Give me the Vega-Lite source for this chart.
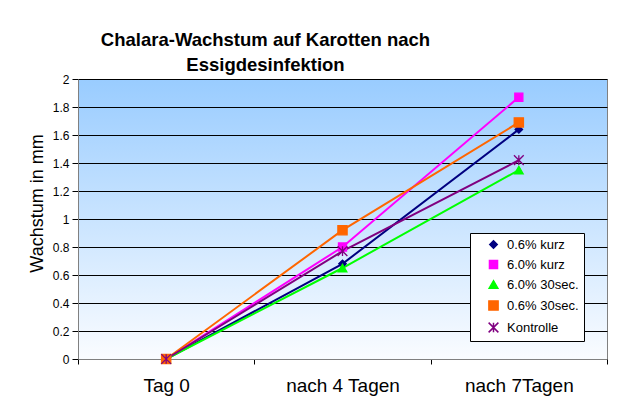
{
  "$schema": "https://vega.github.io/schema/vega-lite/v6.json",
  "autosize": {"type": "none"},
  "width": 529,
  "height": 280,
  "padding": {"left": 78, "top": 79, "right": 23, "bottom": 48},
  "background": "white",
  "title": {
    "text": ["Chalara-Wachstum auf Karotten nach", "Essigdesinfektion"],
    "font": "Liberation Sans",
    "fontSize": 18.5,
    "fontWeight": "bold",
    "lineHeight": 25,
    "color": "#000000",
    "anchor": "middle",
    "dx": -77,
    "offset": -1
  },
  "config": {
    "view": {
      "stroke": "#808080",
      "strokeWidth": 1,
      "fill": {
        "gradient": "linear",
        "x1": 0, "y1": 0, "x2": 0, "y2": 1,
        "stops": [
          {"offset": 0, "color": "#99CCFF"},
          {"offset": 1, "color": "#FAFCFF"}
        ]
      }
    },
    "axis": {
      "labelFont": "Liberation Sans",
      "titleFont": "Liberation Sans",
      "labelColor": "#000000",
      "titleColor": "#000000",
      "domainColor": "#808080",
      "tickColor": "#000000"
    }
  },
  "data": {
    "values": [
      {"day": "Tag 0", "series": "0.6% kurz", "value": 0},
      {"day": "nach 4 Tagen", "series": "0.6% kurz", "value": 0.68},
      {"day": "nach 7Tagen", "series": "0.6% kurz", "value": 1.64},
      {"day": "Tag 0", "series": "6.0% kurz", "value": 0},
      {"day": "nach 4 Tagen", "series": "6.0% kurz", "value": 0.80},
      {"day": "nach 7Tagen", "series": "6.0% kurz", "value": 1.87},
      {"day": "Tag 0", "series": "6.0% 30sec.", "value": 0},
      {"day": "nach 4 Tagen", "series": "6.0% 30sec.", "value": 0.65},
      {"day": "nach 7Tagen", "series": "6.0% 30sec.", "value": 1.35},
      {"day": "Tag 0", "series": "0.6% 30sec.", "value": 0},
      {"day": "nach 4 Tagen", "series": "0.6% 30sec.", "value": 0.92},
      {"day": "nach 7Tagen", "series": "0.6% 30sec.", "value": 1.69},
      {"day": "Tag 0", "series": "Kontrolle", "value": 0},
      {"day": "nach 4 Tagen", "series": "Kontrolle", "value": 0.77},
      {"day": "nach 7Tagen", "series": "Kontrolle", "value": 1.42}
    ]
  },
  "encoding": {
    "x": {
      "field": "day",
      "type": "nominal",
      "sort": ["Tag 0", "nach 4 Tagen", "nach 7Tagen"],
      "scale": {"type": "band", "paddingInner": 0, "paddingOuter": 0},
      "axis": {
        "title": null,
        "labelAngle": 0,
        "labelFontSize": 19,
        "labelPadding": 12,
        "tickBand": "extent",
        "tickSize": 5,
        "grid": false
      }
    },
    "y": {
      "field": "value",
      "type": "quantitative",
      "scale": {"domain": [0, 2], "nice": false, "zero": true},
      "axis": {
        "title": "Wachstum in mm",
        "titleFontSize": 18,
        "titleFontWeight": "normal",
        "titleX": -36,
        "titleY": 124,
        "titleAngle": -90,
        "titleBaseline": "alphabetic",
        "values": [0, 0.2, 0.4, 0.6, 0.8, 1, 1.2, 1.4, 1.6, 1.8, 2],
        "format": ".1~f",
        "labelFontSize": 12,
        "labelPadding": 3,
        "tickSize": 6,
        "grid": true,
        "gridColor": "#000000",
        "gridWidth": 1
      }
    },
    "color": {
      "field": "series",
      "type": "nominal",
      "scale": {
        "domain": ["0.6% kurz", "6.0% kurz", "6.0% 30sec.", "0.6% 30sec.", "Kontrolle"],
        "range": ["#000080", "#FF00FF", "#00FF00", "#FF6600", "#800080"]
      },
      "legend": {
        "title": null,
        "orient": "none",
        "legendX": 392,
        "legendY": 154,
        "fillColor": "#FFFFFF",
        "strokeColor": "#000000",
        "padding": 5,
        "labelFont": "Liberation Sans",
        "labelFontSize": 13,
        "labelColor": "#000000",
        "rowPadding": 5,
        "symbolOffset": 12,
        "labelOffset": 7,
        "symbolStrokeWidth": 1.5
      }
    }
  },
  "layer": [
    {
      "mark": {"type": "line", "strokeWidth": 2}
    },
    {
      "mark": {"type": "point", "filled": true, "opacity": 1, "strokeWidth": 1.3},
      "encoding": {
        "shape": {
          "field": "series",
          "type": "nominal",
          "scale": {
            "domain": ["0.6% kurz", "6.0% kurz", "6.0% 30sec.", "0.6% 30sec.", "Kontrolle"],
            "range": ["diamond", "square", "triangle-up", "square", "M-1,-1L1,1M1,-1L-1,1M0,-1L0,1"]
          }
        },
        "size": {
          "field": "series",
          "type": "nominal",
          "scale": {
            "domain": ["0.6% kurz", "6.0% kurz", "6.0% 30sec.", "0.6% 30sec.", "Kontrolle"],
            "range": [55, 95, 100, 180, 110]
          }
        },
        "stroke": {
          "field": "series",
          "type": "nominal",
          "scale": {
            "domain": ["0.6% kurz", "6.0% kurz", "6.0% 30sec.", "0.6% 30sec.", "Kontrolle"],
            "range": ["#000080", "#FF00FF", "#00FF00", "#FF6600", "#800080"]
          }
        }
      }
    }
  ]
}
